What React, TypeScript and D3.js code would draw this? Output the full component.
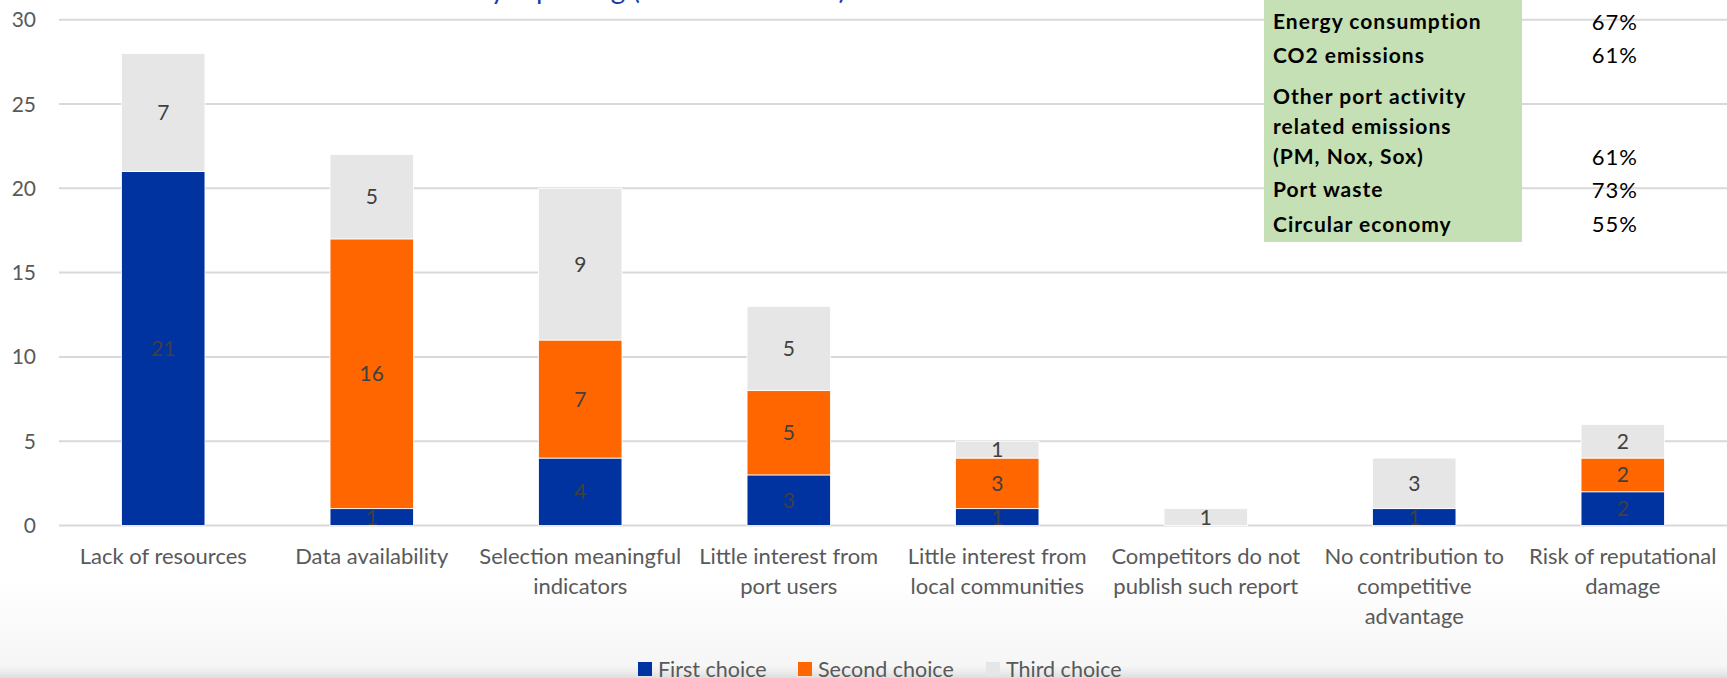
import React, { useRef, useEffect } from "react";
import { select, scaleBand, scaleLinear, stack } from "d3";

const categories = [
  "Lack of resources",
  "Data availability",
  "Selection meaningful\nindicators",
  "Little interest from\nport users",
  "Little interest from\nlocal communities",
  "Competitors do not\npublish such report",
  "No contribution to\ncompetitive\nadvantage",
  "Risk of reputational\ndamage",
];
const firstChoice = [21, 1, 4, 3, 1, 0, 1, 2];
const secondChoice = [0, 16, 7, 5, 3, 0, 0, 2];
const thirdChoice = [7, 5, 9, 5, 1, 1, 3, 2];
const seriesNames = ["First choice", "Second choice", "Third choice"];
const yTicks = [0, 5, 10, 15, 20, 25, 30];

const boxTopics = [
  "Energy consumption",
  "CO2 emissions",
  "Other port activity\nrelated emissions\n(PM, Nox, Sox)",
  "Port waste",
  "Circular economy",
];
const boxShares = ["67%", "61%", "61%", "73%", "55%"];
const titleText = "Barriers to sustainability reporting (number of votes)";

const W = 1727;
const H = 678;
const colors = ["#0033A0", "#FF6600", "#E7E6E6"];
const FONT = "Lato, 'Noto Sans', sans-serif";
// vertical gap before each row of the green table
const rowGaps = [0, 33.3, 41.7, 33, 34.5];

function App() {
  const svgRef = useRef<SVGSVGElement>(null);

  useEffect(() => {
    const svg = select(svgRef.current);
    svg.selectAll("*").remove();

    const x = scaleBand()
      .domain(categories)
      .range([59, 1727])
      .paddingInner(0.6)
      .paddingOuter(0.3);
    const y = scaleLinear().domain([0, 30]).range([525.5, 19.7]);

    // background fade at the bottom
    const defs = svg.append("defs");
    const grad = defs
      .append("linearGradient")
      .attr("id", "fade")
      .attr("x1", 0)
      .attr("y1", 0)
      .attr("x2", 0)
      .attr("y2", 1);
    [
      [0, "#ffffff"],
      [0.88, "#f6f6f6"],
      [0.93, "#eeeeee"],
      [1, "#dedede"],
    ].forEach(([o, c]) => grad.append("stop").attr("offset", o).attr("stop-color", c));
    svg.append("rect").attr("width", W).attr("height", H).attr("fill", "#ffffff");
    svg
      .append("rect")
      .attr("y", 575)
      .attr("width", W)
      .attr("height", H - 575)
      .attr("fill", "url(#fade)");

    // title, mostly cut off above the picture
    svg
      .append("text")
      .attr("x", 846)
      .attr("y", -1)
      .attr("text-anchor", "end")
      .attr("font-family", FONT)
      .attr("font-size", 28)
      .attr("fill", "#1d3fa3")
      .text(titleText);

    // gridlines + y labels
    svg
      .selectAll(".grid")
      .data(yTicks)
      .join("line")
      .attr("class", "grid")
      .attr("x1", 59)
      .attr("x2", W)
      .attr("y1", (d) => y(d))
      .attr("y2", (d) => y(d))
      .attr("stroke", "#d9d9d9")
      .attr("stroke-width", 2);
    svg
      .selectAll(".ytick")
      .data(yTicks)
      .join("text")
      .attr("class", "ytick")
      .attr("x", 36)
      .attr("y", (d) => y(d))
      .attr("dy", "0.36em")
      .attr("text-anchor", "end")
      .attr("font-family", FONT)
      .attr("font-size", 21)
      .attr("fill", "#595959")
      .text((d) => d);

    const rows = categories.map((c, i) => ({
      cat: c,
      s0: firstChoice[i],
      s1: secondChoice[i],
      s2: thirdChoice[i],
    }));
    const series = stack<any>().keys(["s0", "s1", "s2"])(rows);

    const groups = svg
      .selectAll(".series")
      .data(series)
      .join("g")
      .attr("class", "series")
      .attr("fill", (d, i) => colors[i]);
    groups
      .selectAll("rect")
      .data((d) => d.filter((p) => p[1] - p[0] > 0))
      .join("rect")
      .attr("x", (d) => x(d.data.cat)!)
      .attr("width", x.bandwidth())
      .attr("y", (d) => y(d[1]))
      .attr("height", (d) => y(d[0]) - y(d[1]))
      .attr("stroke", "#ffffff")
      .attr("stroke-width", 0.8);

    const labels = series.flatMap((s) =>
      s.filter((p) => p[1] - p[0] > 0).map((p) => ({ p, v: p[1] - p[0] }))
    );
    svg
      .selectAll(".dlabel")
      .data(labels)
      .join("text")
      .attr("class", "dlabel")
      .attr("x", (d) => x(d.p.data.cat)! + x.bandwidth() / 2)
      .attr("y", (d) => y((d.p[0] + d.p[1]) / 2))
      .attr("dy", "0.36em")
      .attr("text-anchor", "middle")
      .attr("font-family", FONT)
      .attr("font-size", 21)
      .attr("fill", "#404040")
      .text((d) => d.v);

    // category labels
    const cat = svg
      .selectAll(".cat")
      .data(categories)
      .join("text")
      .attr("class", "cat")
      .attr("text-anchor", "middle")
      .attr("font-family", FONT)
      .attr("font-size", 22)
      .attr("fill", "#595959");
    cat
      .selectAll("tspan")
      .data((d) => d.split("\n").map((t) => ({ t, c: d })))
      .join("tspan")
      .attr("x", (d) => x(d.c)! + x.bandwidth() / 2)
      .attr("y", (d, i) => 556 + i * 30)
      .attr("dy", "0.36em")
      .text((d) => d.t);

    // green box
    svg
      .append("rect")
      .attr("x", 1264)
      .attr("y", 0)
      .attr("width", 258)
      .attr("height", 242)
      .attr("fill", "#C5E0B4");
    let yy = 21.7;
    boxTopics.forEach((t, i) => {
      const lines = t.split("\n");
      yy += rowGaps[i];
      lines.forEach((ln, k) => {
        svg
          .append("text")
          .attr("x", 1273)
          .attr("y", yy + k * 30)
          .attr("dy", "0.36em")
          .attr("font-family", FONT)
          .attr("font-weight", "bold")
          .attr("font-size", 21)
          .attr("letter-spacing", 1)
          .attr("fill", "#000")
          .text(ln);
      });
      yy += (lines.length - 1) * 30;
      svg
        .append("text")
        .attr("x", 1638)
        .attr("y", yy)
        .attr("dy", "0.36em")
        .attr("text-anchor", "end")
        .attr("font-family", FONT)
        .attr("font-size", 22)
        .attr("letter-spacing", 1)
        .attr("fill", "#000")
        .text(boxShares[i]);
    });

    // legend
    const legX = [638, 798, 986];
    const leg = svg
      .selectAll(".leg")
      .data(seriesNames)
      .join("g")
      .attr("class", "leg")
      .attr("transform", (d, i) => `translate(${legX[i]},662)`);
    leg
      .append("rect")
      .attr("width", 14)
      .attr("height", 14)
      .attr("fill", (d, i) => colors[i]);
    leg
      .append("text")
      .attr("x", 20)
      .attr("y", 7)
      .attr("dy", "0.36em")
      .attr("font-family", FONT)
      .attr("font-size", 21.5)
      .attr("fill", "#595959")
      .text((d) => d);
  }, []);

  return (
    <svg
      ref={svgRef}
      width={W}
      height={H}
      style={{ position: "absolute", left: 0, top: 0 }}
    />
  );
}

export default App;
